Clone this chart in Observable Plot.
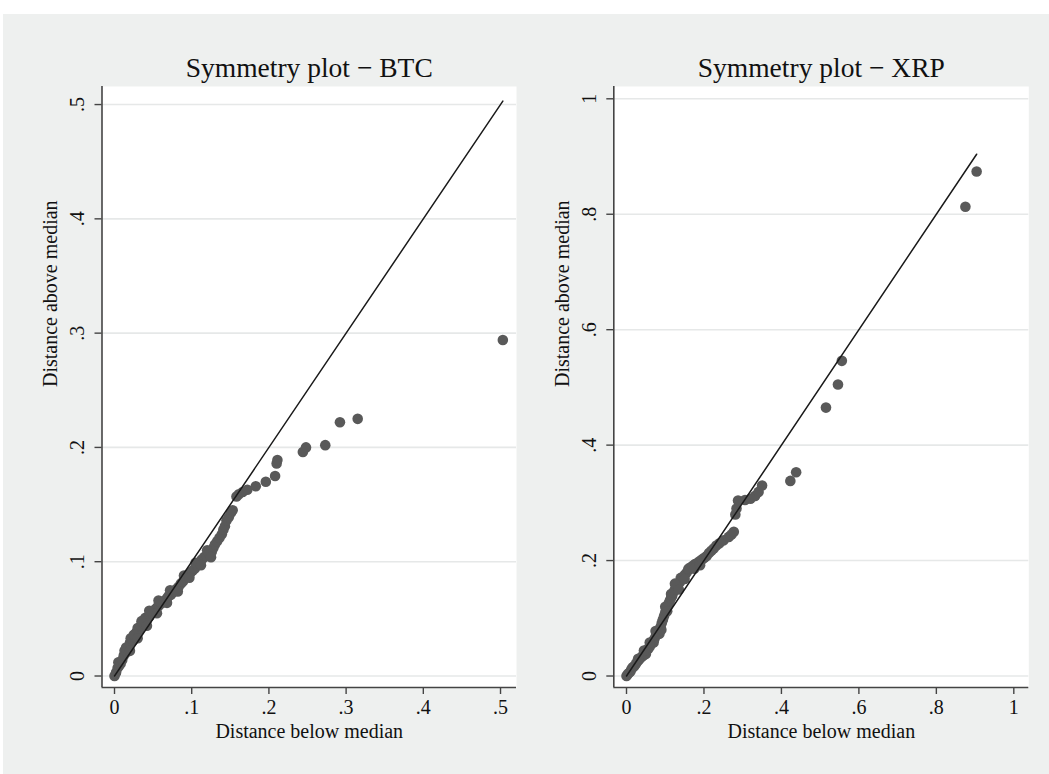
<!DOCTYPE html>
<html><head><meta charset="utf-8">
<script src="https://cdn.jsdelivr.net/npm/d3@7"></script>
<script src="https://cdn.jsdelivr.net/npm/@observablehq/plot@0.6"></script>
<style>
body{margin:0;background:#fff;width:1049px;height:774px;overflow:hidden;position:relative;font-family:"Liberation Serif","Times New Roman",serif;}
#bg{position:absolute;left:3px;top:14px;width:1046px;height:760px;background:#eef0ef;}
.panel{position:absolute;top:0;}
</style></head><body>
<div id="bg"></div>
<div id="left" class="panel" style="left:0px"></div>
<div id="right" class="panel" style="left:524px"></div>
<script>
// BTC: distance below median / distance above median
const btcBelow = [0.000,0.002,0.004,0.005,0.006,0.008,0.010,0.012,0.013,0.016,0.018,0.020,0.021,0.024,0.026,0.028,0.030,0.032,0.034,0.036,0.039,0.040,0.042,0.045,0.047,0.050,0.052,0.055,0.058,0.060,0.062,0.065,0.068,0.070,0.073,0.075,0.077,0.080,0.083,0.086,0.089,0.092,0.095,0.098,0.101,0.104,0.107,0.110,0.113,0.116,0.119,0.123,0.126,0.128,0.130,0.133,0.136,0.139,0.141,0.143,0.145,0.148,0.151,0.153,0.158,0.161,0.166,0.172,0.183,0.196,0.208,0.210,0.211,0.244,0.248,0.273,0.292,0.315,0.503,
  0.015,0.025,0.035,0.045,0.057,0.072,0.090,0.105,0.120,0.020,0.030,0.042,0.055,0.068,0.082,0.097,0.112,0.125];
const btcAbove = [0.000,0.003,0.007,0.012,0.009,0.011,0.014,0.018,0.022,0.021,0.025,0.029,0.033,0.031,0.034,0.038,0.042,0.040,0.044,0.047,0.046,0.051,0.049,0.052,0.055,0.057,0.058,0.060,0.062,0.064,0.064,0.066,0.068,0.070,0.071,0.073,0.074,0.076,0.078,0.081,0.083,0.086,0.088,0.090,0.092,0.094,0.097,0.099,0.102,0.104,0.105,0.107,0.109,0.112,0.115,0.118,0.121,0.124,0.128,0.131,0.136,0.139,0.143,0.145,0.157,0.159,0.161,0.163,0.166,0.170,0.175,0.186,0.189,0.196,0.200,0.202,0.222,0.225,0.294,
  0.025,0.036,0.048,0.057,0.066,0.075,0.088,0.099,0.110,0.022,0.033,0.044,0.055,0.064,0.074,0.086,0.097,0.104];

// XRP: distance below median / distance above median
const xrpBelow = [0.000,0.003,0.006,0.010,0.013,0.016,0.020,0.024,0.028,0.032,0.036,0.040,0.044,0.048,0.050,0.052,0.056,0.060,0.064,0.068,0.070,0.072,0.076,0.080,0.084,0.085,0.088,0.091,0.094,0.097,0.100,0.100,0.103,0.106,0.109,0.112,0.115,0.115,0.118,0.121,0.125,0.129,0.133,0.137,0.140,0.141,0.145,0.150,0.155,0.160,0.160,0.165,0.171,0.177,0.183,0.189,0.195,0.201,0.207,0.213,0.219,0.225,0.232,0.240,0.251,0.264,0.271,0.277,0.281,0.284,0.288,0.306,0.320,0.332,0.341,0.350,0.423,0.438,0.515,0.546,0.556,0.875,0.904,
  0.030,0.045,0.060,0.075,0.090,0.105,0.125,0.135,0.150,0.175,0.190];
const xrpAbove = [0.000,0.003,0.005,0.008,0.012,0.015,0.017,0.021,0.025,0.028,0.031,0.034,0.036,0.040,0.038,0.045,0.047,0.051,0.056,0.060,0.058,0.064,0.070,0.075,0.080,0.073,0.085,0.092,0.098,0.104,0.110,0.120,0.116,0.121,0.126,0.131,0.135,0.142,0.139,0.145,0.150,0.155,0.158,0.162,0.170,0.166,0.170,0.175,0.179,0.184,0.186,0.188,0.191,0.194,0.196,0.199,0.202,0.205,0.208,0.213,0.217,0.221,0.226,0.230,0.235,0.241,0.245,0.250,0.280,0.290,0.304,0.305,0.307,0.312,0.319,0.330,0.338,0.353,0.465,0.505,0.546,0.813,0.874,
  0.030,0.044,0.058,0.078,0.080,0.112,0.160,0.150,0.168,0.186,0.192];

const btcTicks = [0, 0.1, 0.2, 0.3, 0.4, 0.5];
const btcTickLabels = ["0", ".1", ".2", ".3", ".4", ".5"];
const xrpTicks = [0, 0.2, 0.4, 0.6, 0.8, 1];
const xrpTickLabels = ["0", ".2", ".4", ".6", ".8", "1"];

const titles = ["Symmetry plot \u2212 BTC", "Symmetry plot \u2212 XRP"];
const xTitle = "Distance below median";
const yTitle = "Distance above median";

const FONT = "Liberation Serif, Times New Roman, serif";

function panel({below, above, ticks, tickLabels, xDomain, yDomain, width, marginLeft, marginRight, title}) {
  const data = below.map((b, i) => ({b, a: above[i]}));
  const m = d3.max(below);
  const diag = [{v: 0}, {v: m}];
  const fmt = d => tickLabels[ticks.indexOf(d)];
  return Plot.plot({
    width, height: 774, marginLeft, marginRight, marginTop: 86, marginBottom: 87,
    x: {domain: xDomain}, y: {domain: yDomain},
    style: {background: "transparent", fontFamily: FONT, color: "#111", overflow: "visible"},
    marks: [
      Plot.frame({fill: "white", stroke: "none"}),
      Plot.gridY(ticks, {stroke: "#e6e8e8", strokeOpacity: 1, strokeWidth: 1.6}),
      Plot.dot(data, {x: "b", y: "a", r: 5.3, fill: "#595959", stroke: "none"}),
      Plot.line(diag, {x: "v", y: "v", stroke: "#1a1a1a", strokeWidth: 1.5}),
      Plot.ruleX([xDomain[0]], {stroke: "#444", strokeWidth: 1.6}),
      Plot.ruleY([yDomain[0]], {stroke: "#444", strokeWidth: 1.6}),
      Plot.axisX(ticks, {tickFormat: fmt, tickSize: 7, tickPadding: 5.5, fontSize: 20, label: null, stroke: "#444", strokeWidth: 1.4}),
      Plot.axisY(ticks, {tickFormat: fmt, tickSize: 7, tickPadding: 11, tickRotate: -90, fontSize: 20, label: null, stroke: "#444", strokeWidth: 1.4}),
      Plot.text([xTitle], {text: d => d, frameAnchor: "bottom", dy: 50, lineAnchor: "bottom", fontSize: 20, fill: "#111"}),
      Plot.text([yTitle], {text: d => d, frameAnchor: "left", dx: -45, rotate: -90, lineAnchor: "bottom", fontSize: 20, fill: "#111"}),
      Plot.text([title], {text: d => d, frameAnchor: "top", dy: -10, lineAnchor: "bottom", fontSize: 27.5, fill: "#111"})
    ]
  });
}

document.getElementById("left").appendChild(panel({
  below: btcBelow, above: btcAbove, ticks: btcTicks, tickLabels: btcTickLabels,
  xDomain: [-0.0162, 0.5207], yDomain: [-0.01006, 0.5158],
  width: 524, marginLeft: 101.5, marginRight: 8, title: titles[0]
}));
document.getElementById("right").appendChild(panel({
  below: xrpBelow, above: xrpAbove, ticks: xrpTicks, tickLabels: xrpTickLabels,
  xDomain: [-0.0328, 1.0387], yDomain: [-0.0199, 1.0213],
  width: 525, marginLeft: 89.3, marginRight: 20.7, title: titles[1]
}));
</script>
</body></html>
